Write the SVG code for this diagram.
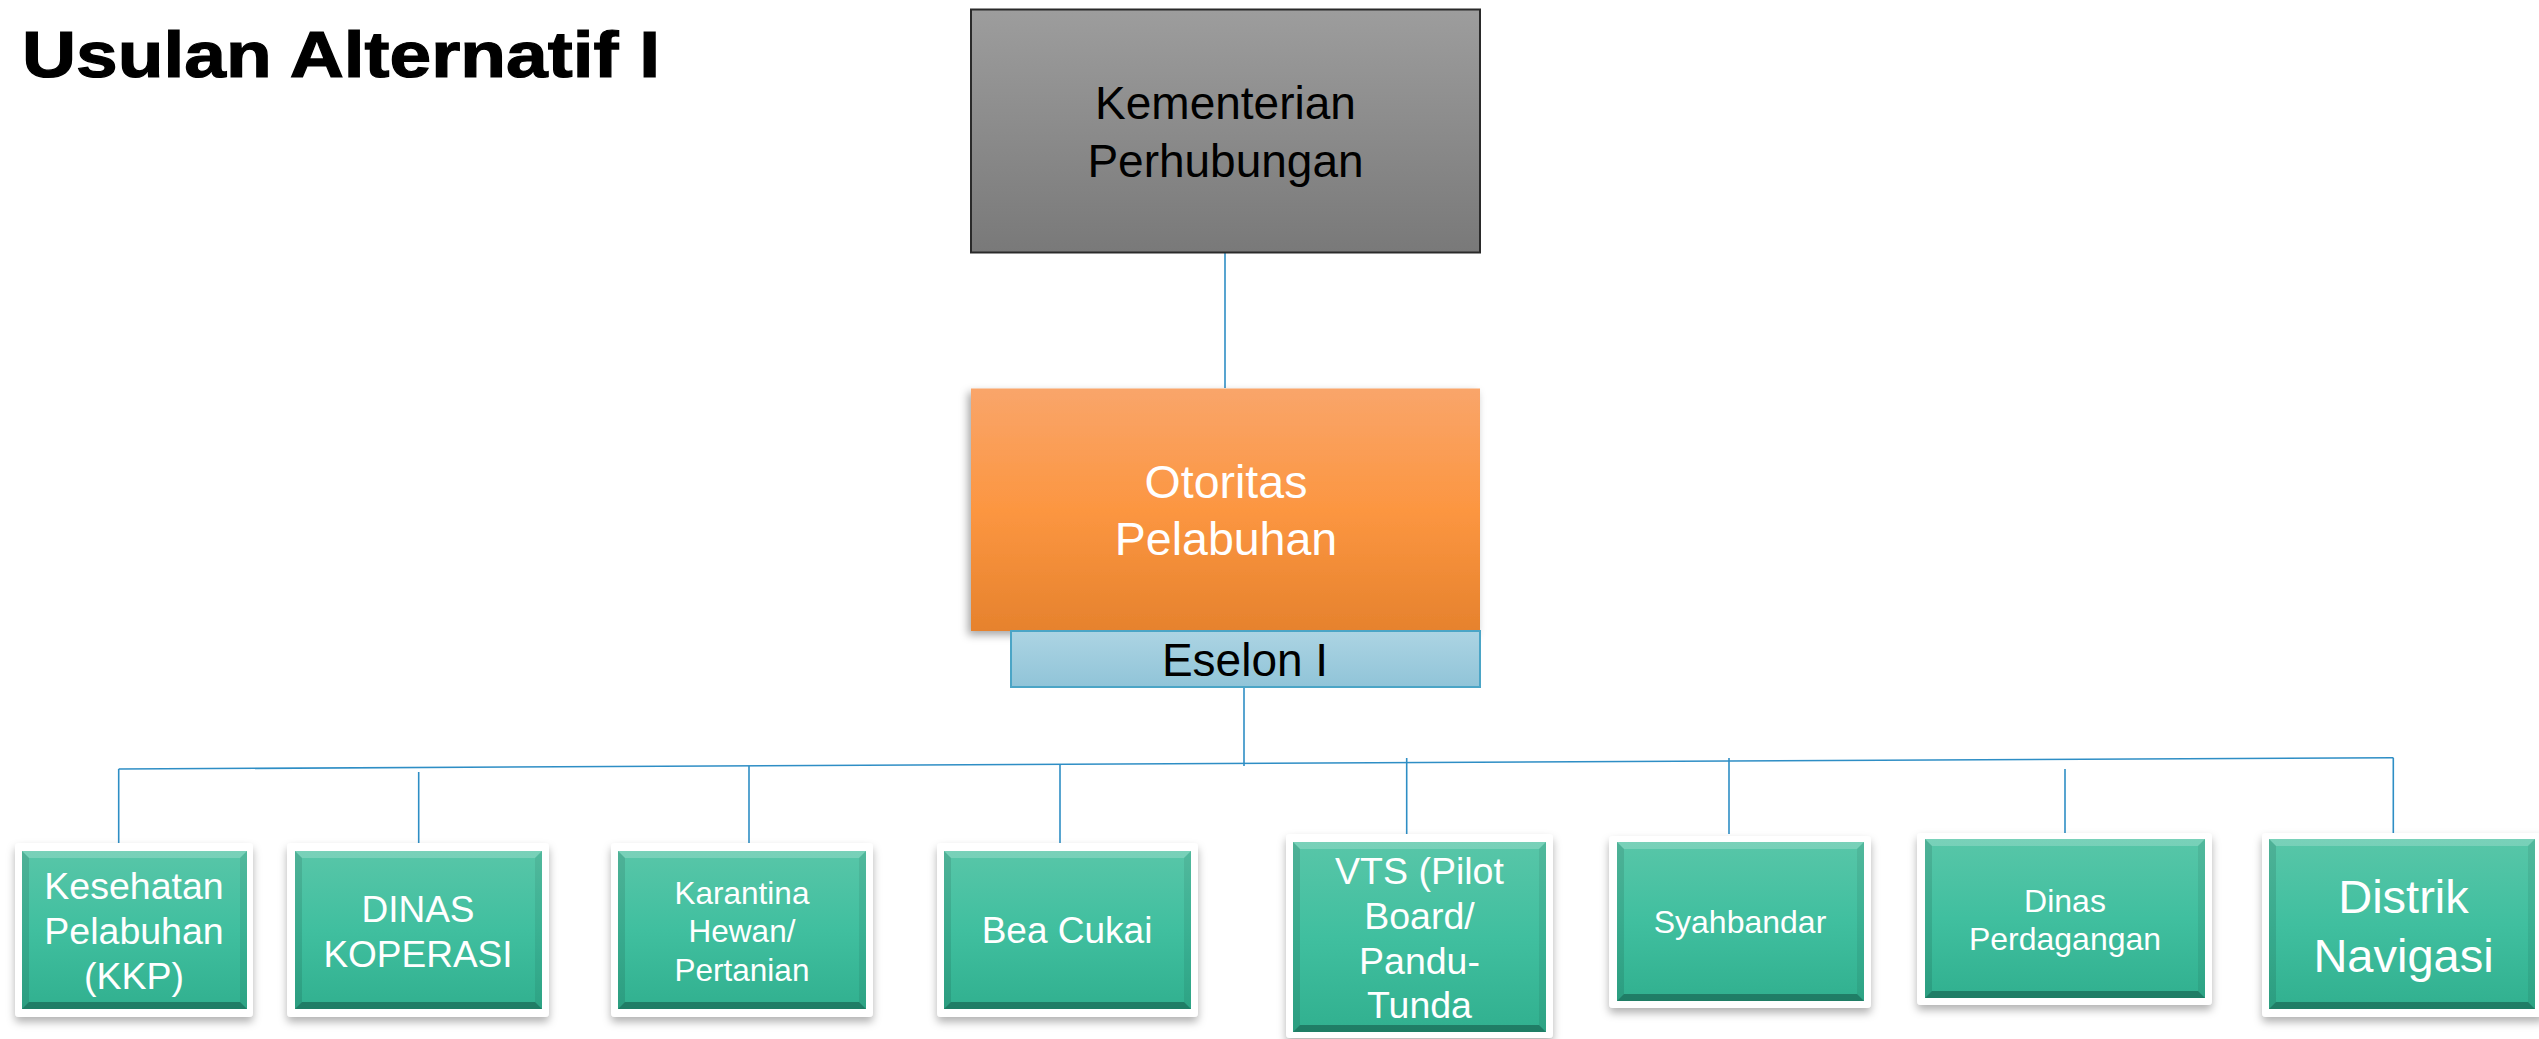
<svg xmlns="http://www.w3.org/2000/svg" width="2539" height="1039" viewBox="0 0 2539 1039">
<defs>
<linearGradient id="gGray" x1="0" y1="0" x2="0" y2="1"><stop offset="0" stop-color="#9d9d9d"/><stop offset="1" stop-color="#797979"/></linearGradient>
<linearGradient id="gOrange" x1="0" y1="0" x2="0" y2="1"><stop offset="0" stop-color="#f9a56a"/><stop offset="0.5" stop-color="#fc9641"/><stop offset="1" stop-color="#e6822d"/></linearGradient>
<linearGradient id="gBlue" x1="0" y1="0" x2="0" y2="1"><stop offset="0" stop-color="#acd4e3"/><stop offset="1" stop-color="#90c4d8"/></linearGradient>
<linearGradient id="gGreen" x1="0" y1="0" x2="0" y2="1"><stop offset="0" stop-color="#58c6a8"/><stop offset="0.5" stop-color="#40bf9f"/><stop offset="1" stop-color="#31b08f"/></linearGradient>
<filter id="sh" x="-10%" y="-10%" width="120%" height="125%"><feDropShadow dx="0" dy="5" stdDeviation="4" flood-color="#000" flood-opacity="0.3"/></filter>
<filter id="shO" x="-10%" y="-10%" width="120%" height="125%"><feDropShadow dx="-3" dy="4" stdDeviation="4" flood-color="#000" flood-opacity="0.35"/></filter>
</defs>
<style>
.conn{stroke:#2e8ec5;stroke-width:1.6;fill:none}
.frame{fill:#ffffff;filter:url(#sh)}
.face{fill:url(#gGreen)}
.bt{fill:#ffffff;fill-opacity:0.2}
.bb{fill:#0d4a3b;fill-opacity:0.5}
.bl{fill:#000;fill-opacity:0.1}
.br{fill:#000;fill-opacity:0.07}
.t{font-family:"Liberation Sans",Arial,sans-serif;text-anchor:middle}
.w{fill:#ffffff}
.k{fill:#000000}
</style>
<text x="22" y="77" font-family="Liberation Sans, Arial, sans-serif" font-weight="bold" font-size="65" textLength="638" lengthAdjust="spacingAndGlyphs" fill="#000" stroke="#000" stroke-width="1.2">Usulan Alternatif I</text>
<g id="connectors">
<path class="conn" d="M1225 253 V388"/>
<path class="conn" d="M1244 687 V766"/>
<path class="conn" d="M118.7 769 L2393.3 757.7"/>
<path class="conn" d="M118.7 769 V845"/>
<path class="conn" d="M418.7 772 V848"/>
<path class="conn" d="M749 766 V843"/>
<path class="conn" d="M1060 765 V843"/>
<path class="conn" d="M1406.7 758 V834"/>
<path class="conn" d="M1729 758 V834"/>
<path class="conn" d="M2065 769 V845"/>
<path class="conn" d="M2393.3 757.7 V834"/>
</g>
<g id="kementerian">
<rect x="971" y="9.5" width="509" height="243" fill="url(#gGray)" stroke="#2a2a2a" stroke-width="2"/>
<text class="t k" x="1225.5" y="119" font-size="46">Kementerian</text>
<text class="t k" x="1225.5" y="177" font-size="46">Perhubungan</text>
</g>
<g id="otoritas">
<rect x="971" y="388.5" width="509" height="242.5" fill="url(#gOrange)" filter="url(#shO)"/>
<text class="t w" x="1226" y="498" font-size="46.5">Otoritas</text>
<text class="t w" x="1226" y="555" font-size="46.5">Pelabuhan</text>
</g>
<g id="eselon">
<rect x="1011" y="631" width="469" height="56" fill="url(#gBlue)" stroke="#4ba5c6" stroke-width="2"/>
<text class="t k" x="1245" y="676" font-size="46">Eselon I</text>
</g>
<g id="kkp">
<rect class="frame" x="15" y="843" width="238" height="174" rx="4"/>
<rect class="face" x="22" y="851" width="225" height="158"/>
<polygon class="bt" points="22,851 247,851 240,858 29,858"/>
<polygon class="bb" points="22,1009 247,1009 240,1002 29,1002"/>
<polygon class="bl" points="22,851 29,858 29,1002 22,1009"/>
<polygon class="br" points="247,851 240,858 240,1002 247,1009"/>
<text class="t w" x="134" y="899" font-size="37.5">Kesehatan</text>
<text class="t w" x="134" y="944" font-size="37.5">Pelabuhan</text>
<text class="t w" x="134" y="989" font-size="37.5">(KKP)</text>
</g>
<g id="dinas-koperasi">
<rect class="frame" x="287" y="843" width="262" height="174" rx="4"/>
<rect class="face" x="295" y="851" width="247" height="158"/>
<polygon class="bt" points="295,851 542,851 535,858 302,858"/>
<polygon class="bb" points="295,1009 542,1009 535,1002 302,1002"/>
<polygon class="bl" points="295,851 302,858 302,1002 295,1009"/>
<polygon class="br" points="542,851 535,858 535,1002 542,1009"/>
<text class="t w" x="418" y="922" font-size="37">DINAS</text>
<text class="t w" x="418" y="967" font-size="37">KOPERASI</text>
</g>
<g id="karantina">
<rect class="frame" x="611" y="843" width="262" height="174" rx="4"/>
<rect class="face" x="618" y="851" width="248" height="158"/>
<polygon class="bt" points="618,851 866,851 859,858 625,858"/>
<polygon class="bb" points="618,1009 866,1009 859,1002 625,1002"/>
<polygon class="bl" points="618,851 625,858 625,1002 618,1009"/>
<polygon class="br" points="866,851 859,858 859,1002 866,1009"/>
<text class="t w" x="742" y="904" font-size="31.5">Karantina</text>
<text class="t w" x="742" y="942" font-size="31.5">Hewan/</text>
<text class="t w" x="742" y="980.5" font-size="31.5">Pertanian</text>
</g>
<g id="bea-cukai">
<rect class="frame" x="937" y="843" width="261" height="174" rx="4"/>
<rect class="face" x="944" y="851" width="247" height="158"/>
<polygon class="bt" points="944,851 1191,851 1184,858 951,858"/>
<polygon class="bb" points="944,1009 1191,1009 1184,1002 951,1002"/>
<polygon class="bl" points="944,851 951,858 951,1002 944,1009"/>
<polygon class="br" points="1191,851 1184,858 1184,1002 1191,1009"/>
<text class="t w" x="1067" y="943" font-size="37">Bea Cukai</text>
</g>
<g id="vts">
<rect class="frame" x="1286" y="834" width="267" height="204" rx="4"/>
<rect class="face" x="1293" y="842" width="253" height="190"/>
<polygon class="bt" points="1293,842 1546,842 1539,849 1300,849"/>
<polygon class="bb" points="1293,1032 1546,1032 1539,1025 1300,1025"/>
<polygon class="bl" points="1293,842 1300,849 1300,1025 1293,1032"/>
<polygon class="br" points="1546,842 1539,849 1539,1025 1546,1032"/>
<text class="t w" x="1419.5" y="884" font-size="37.5">VTS (Pilot</text>
<text class="t w" x="1419.5" y="929" font-size="37.5">Board/</text>
<text class="t w" x="1419.5" y="974" font-size="37.5">Pandu-</text>
<text class="t w" x="1419.5" y="1018" font-size="37.5">Tunda</text>
</g>
<g id="syahbandar">
<rect class="frame" x="1609" y="836" width="262" height="172" rx="4"/>
<rect class="face" x="1617" y="842" width="247" height="159"/>
<polygon class="bt" points="1617,842 1864,842 1857,849 1624,849"/>
<polygon class="bb" points="1617,1001 1864,1001 1857,994 1624,994"/>
<polygon class="bl" points="1617,842 1624,849 1624,994 1617,1001"/>
<polygon class="br" points="1864,842 1857,849 1857,994 1864,1001"/>
<text class="t w" x="1740" y="933" font-size="32">Syahbandar</text>
</g>
<g id="dinas-perdagangan">
<rect class="frame" x="1917" y="833" width="295" height="172" rx="4"/>
<rect class="face" x="1925" y="839" width="280" height="159"/>
<polygon class="bt" points="1925,839 2205,839 2198,846 1932,846"/>
<polygon class="bb" points="1925,998 2205,998 2198,991 1932,991"/>
<polygon class="bl" points="1925,839 1932,846 1932,991 1925,998"/>
<polygon class="br" points="2205,839 2198,846 2198,991 2205,998"/>
<text class="t w" x="2065" y="911.5" font-size="32">Dinas</text>
<text class="t w" x="2065" y="950" font-size="32">Perdagangan</text>
</g>
<g id="distrik-navigasi">
<rect class="frame" x="2262" y="833" width="282" height="184" rx="4"/>
<rect class="face" x="2269" y="839" width="266" height="170"/>
<polygon class="bt" points="2269,839 2535,839 2528,846 2276,846"/>
<polygon class="bb" points="2269,1009 2535,1009 2528,1002 2276,1002"/>
<polygon class="bl" points="2269,839 2276,846 2276,1002 2269,1009"/>
<polygon class="br" points="2535,839 2528,846 2528,1002 2535,1009"/>
<text class="t w" x="2403.5" y="913" font-size="47">Distrik</text>
<text class="t w" x="2403.5" y="971.5" font-size="47">Navigasi</text>
</g>
</svg>
